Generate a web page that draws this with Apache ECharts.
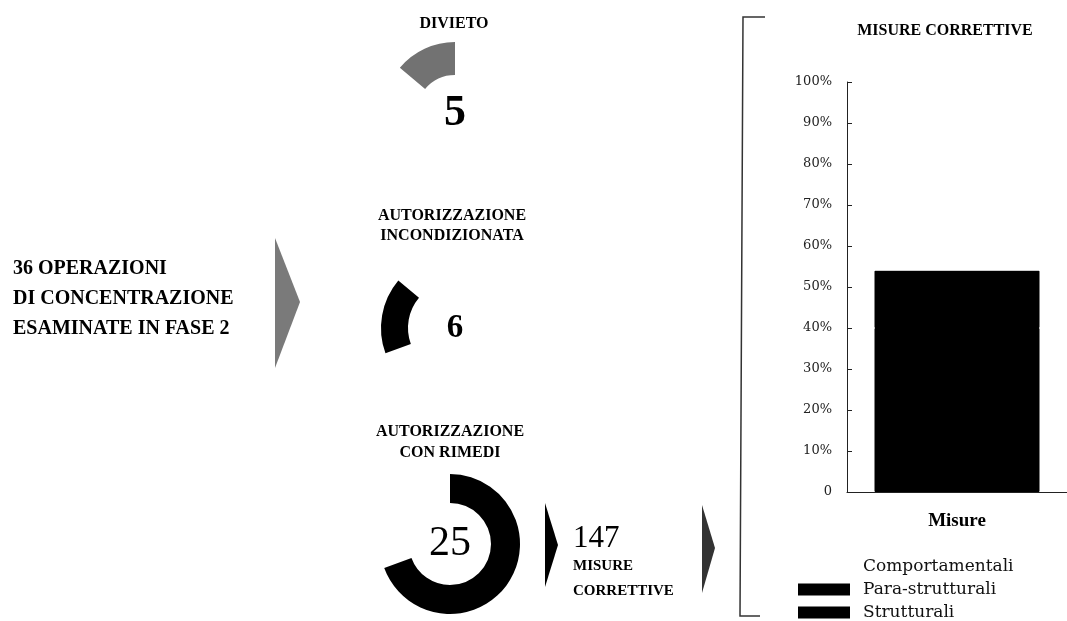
<!DOCTYPE html>
<html>
<head>
<meta charset="utf-8">
<script src="https://cdn.jsdelivr.net/npm/echarts@6/dist/echarts.min.js"></script>
<style>
  html, body { margin: 0; padding: 0; background: #fff; }
  #chart { width: 1067px; height: 621px; }
</style>
</head>
<body>
<div id="chart"></div>
<script>
// esiti delle 36 operazioni
const esiti = ["DIVIETO", "AUTORIZZAZIONE INCONDIZIONATA", "AUTORIZZAZIONE CON RIMEDI"];
const esitiValori = [5, 6, 25];
const misureTotali = 147;

// misure correttive (quota %)
const categorie = ["Misure"];
const strutturali = [40];
const paraStrutturali = [14];
const comportamentali = [46];
const legendaVoci = ["Comportamentali", "Para-strutturali", "Strutturali"];

const serif = "'Liberation Serif', 'DejaVu Serif', serif";
const serif2 = "'DejaVu Serif', serif";

const myChart = echarts.init(document.getElementById("chart"));

const pieCfg = [
  { center: [455, 114], radius: [39, 72], color: "#727272", weight: "bold", size: 44 },
  { center: [455, 328], radius: [47, 74], color: "#000", weight: "bold", size: 33 },
  { center: [450, 544], radius: [41, 70], color: "#000", weight: "normal", size: 42 }
];

const makePie = (idx) => {
  let c = pieCfg[idx];
  return {
    type: "pie",
    silent: true,
    center: c.center,
    radius: c.radius,
    startAngle: 90,
    clockwise: false,
    avoidLabelOverlap: false,
    labelLine: { show: false },
    data: esiti.map((n, j) => ({
      name: n,
      value: esitiValori[j],
      itemStyle: { color: j === idx ? c.color : "rgba(0,0,0,0)" },
      label: {
        show: j === idx,
        position: "center",
        formatter: "{c}",
        color: "#000",
        fontFamily: serif,
        fontWeight: c.weight,
        fontSize: c.size
      }
    }))
  };
};

const txt = (s, x, y, font, align) => ({
  type: "text",
  x: x,
  y: y,
  silent: true,
  style: { text: s, font: font, fill: "#000", textAlign: align || "center", textVerticalAlign: "middle" }
});

const tri = (pts, fill) => ({
  type: "polygon",
  silent: true,
  shape: { points: pts },
  style: { fill: fill }
});

const nero = { color: "#000", borderColor: "#000", borderWidth: 1 };

let option = {
  animation: false,
  backgroundColor: "#fff",
  grid: { left: 847, right: 0, top: 82, bottom: 129 },
  legend: {
    orient: "vertical",
    left: 798,
    top: 558,
    padding: 0,
    itemWidth: 50,
    itemHeight: 10,
    itemGap: 6,
    icon: "rect",
    data: legendaVoci,
    textStyle: { fontFamily: serif2, fontSize: 17, color: "#111", padding: [0, 0, 0, 9] }
  },
  xAxis: {
    type: "category",
    data: categorie,
    axisTick: { show: false },
    axisLine: { lineStyle: { color: "#222", width: 1 } },
    axisLabel: { margin: 20, color: "#000", fontFamily: serif, fontWeight: "bold", fontSize: 19 }
  },
  yAxis: {
    type: "value",
    min: 0,
    max: 100,
    interval: 10,
    splitLine: { show: false },
    axisLine: { show: true, lineStyle: { color: "#222", width: 1 } },
    axisTick: { show: true, inside: true, length: 5, lineStyle: { color: "#222" } },
    axisLabel: {
      margin: 15,
      color: "#222",
      fontFamily: serif2,
      fontSize: 13,
      formatter: (v) => (v === 0 ? "0" : v + "%")
    }
  },
  series: [
    makePie(0),
    makePie(1),
    makePie(2),
    { name: "Strutturali", type: "bar", stack: "m", barWidth: "75%", data: strutturali, itemStyle: nero },
    { name: "Para-strutturali", type: "bar", stack: "m", data: paraStrutturali, itemStyle: nero },
    { name: "Comportamentali", type: "bar", stack: "m", data: comportamentali, itemStyle: { color: "#fff" } }
  ],
  graphic: [
    txt("36 OPERAZIONI", 13, 269, "bold 20px " + serif, "left"),
    txt("DI CONCENTRAZIONE", 13, 299, "bold 20px " + serif, "left"),
    txt("ESAMINATE IN FASE 2", 13, 329, "bold 20px " + serif, "left"),
    tri([[275, 238], [300, 302], [275, 368]], "#7a7a7a"),
    txt("DIVIETO", 454, 24, "bold 16px " + serif),
    txt("AUTORIZZAZIONE", 452, 216, "bold 16px " + serif),
    txt("INCONDIZIONATA", 452, 236, "bold 16px " + serif),
    txt("AUTORIZZAZIONE", 450, 432, "bold 16px " + serif),
    txt("CON RIMEDI", 450, 453, "bold 16px " + serif),
    tri([[545, 503], [558, 545], [545, 587]], "#000"),
    txt(String(misureTotali), 573, 539, "31px " + serif, "left"),
    txt("MISURE", 573, 566, "bold 15px " + serif, "left"),
    txt("CORRETTIVE", 573, 591, "bold 15px " + serif, "left"),
    tri([[702, 505], [715, 548], [702, 593]], "#333"),
    {
      type: "polyline",
      silent: true,
      shape: { points: [[765, 17], [743, 17], [740, 616], [760, 616]] },
      style: { stroke: "#333", lineWidth: 1.5, fill: null }
    },
    txt("MISURE CORRETTIVE", 945, 31, "bold 16px " + serif)
  ]
};
option && myChart.setOption(option);
</script>
</body>
</html>
